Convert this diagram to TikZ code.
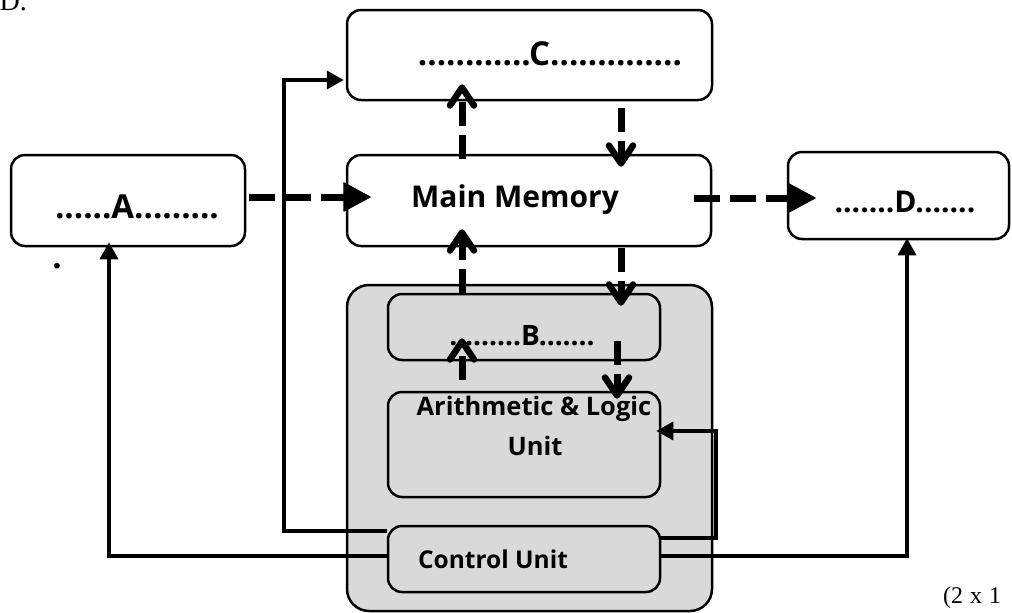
\documentclass[tikz,border=0pt]{standalone}
\usepackage{fontspec}
\setmainfont{Open Sans}
\newfontfamily\timesf{Liberation Serif}
\usetikzlibrary{arrows.meta}
\definecolor{cpugray}{RGB}{217,217,217}
\begin{document}
\begin{tikzpicture}[x=1pt,y=-1pt,
  wbox/.style={draw=black, line width=2.5pt, rounded corners=14pt, fill=white, minimum width=#1},
  ibox/.style={draw=black, line width=2.5pt, rounded corners=14pt},
  lbl/.style={font=\bfseries\fontsize{#1}{#1}\selectfont, inner sep=0pt, anchor=base},
  vdash/.style={line width=7pt, dash pattern=on 24pt off 9pt,
     -{Straight Barb[length=18pt,width=24pt,line width=6.5pt,round]}},
  hdash/.style={line width=7pt, dash pattern=on 26pt off 10pt,
     -{Triangle[length=28pt,width=30pt,line width=1pt,round]}},
  sarrow/.style={line width=3.5pt, -{Triangle[length=17pt,width=18pt]}},
]
\useasboundingbox (0,0) rectangle (1012,613);

% boxes
\node[wbox=365pt, minimum height=90pt] (c) at (529.5,55) {};
\node[wbox=364pt, minimum height=91pt] (mm) at (529,200.5) {};
\node[wbox=234pt, minimum height=91pt] (a) at (128,200.5) {};
\node[wbox=221pt, minimum height=87pt] (d) at (898.5,195.5) {};
\node[draw=black, line width=2.5pt, rounded corners=22pt, fill=cpugray,
      minimum width=365pt, minimum height=326pt] (cpu) at (529.5,448) {};
\node[ibox, minimum width=272pt, minimum height=66pt] (b) at (524,327) {};
\node[ibox, minimum width=272pt, minimum height=105pt] (alu) at (524,444.5) {};
\node[ibox, minimum width=272pt, minimum height=66pt] (cu) at (524,559) {};

% texts
\node[lbl=33] (ct) at (550,65) {............C..............};
\node[lbl=30] (mmt) at (515,207) {Main Memory};
\node[lbl=33] (at) at (137,218) {......A.........};
\node[lbl=33] (at2) at (57,268) {.};
\node[lbl=30] (dt) at (905,212) {.......D.......};
\node[lbl=28] (bt) at (522,345) {.........B.......};
\node[lbl=25.5] (alut1) at (534,415) {Arithmetic \& Logic};
\node[lbl=25.5] (alut2) at (535,455) {Unit};
\node[lbl=24.5] (cut) at (493,568) {Control Unit};
\node[font=\timesf\fontsize{28}{28}\selectfont, inner sep=0pt, anchor=base east] (dd) at (27,10) {D.};
\node[font=\timesf\fontsize{24}{24}\selectfont, inner sep=0pt, anchor=base west] (note) at (943,603) {(2\hspace{7pt}x\hspace{7pt}1};

% helper coordinates
\coordinate (xl) at (462,0);
\coordinate (xr) at (621,0);
\coordinate (xr2) at (617,0);
\coordinate (cl) at (284,80);
\coordinate (al) at (716,431);

% dashed data arrows
\draw[hdash, shorten <=3pt, shorten >=-25pt] (a.east |- 0,197) -- (mm.west |- 0,197);
\draw[hdash, shorten <=-18pt, shorten >=-29pt] (mm.east |- 0,198) -- (d.west |- 0,198);
\draw[vdash, shorten <=-5pt, shorten >=-17pt] (xl |- mm.north) -- (xl |- c.south);
\draw[vdash, shorten <=7pt, shorten >=-13pt] (xr |- c.south) -- (xr |- mm.north);
\draw[vdash, shorten <=1pt, shorten >=-13pt] (xr |- mm.south) -- (xr |- b.north);
\draw[vdash, shorten <=0pt, shorten >=-18pt] (xl |- b.north) -- (xl |- mm.south);
\draw[vdash, shorten <=-20pt, shorten >=-8pt] (xr2 |- b.south) -- (xr2 |- alu.north);
\draw[vdash, shorten <=11pt, shorten >=-23pt] (xl |- alu.north) -- (xl |- b.south);

% control lines
\draw[sarrow, shorten >=2pt] ([yshift=28pt]cu.west) -| (cl) -- (c.west |- cl);
\draw[sarrow, shorten >=-5pt] ([yshift=3pt]cu.west) -| ([xshift=-19pt]a.south);
\draw[sarrow, shorten >=-2pt] ([yshift=3pt]cu.east) -| ([xshift=8.5pt]d.south);
\draw[sarrow, shorten >=-5pt] ([yshift=21pt]cu.east) -| (al) -- (alu.east |- al);
\end{tikzpicture}
\end{document}
